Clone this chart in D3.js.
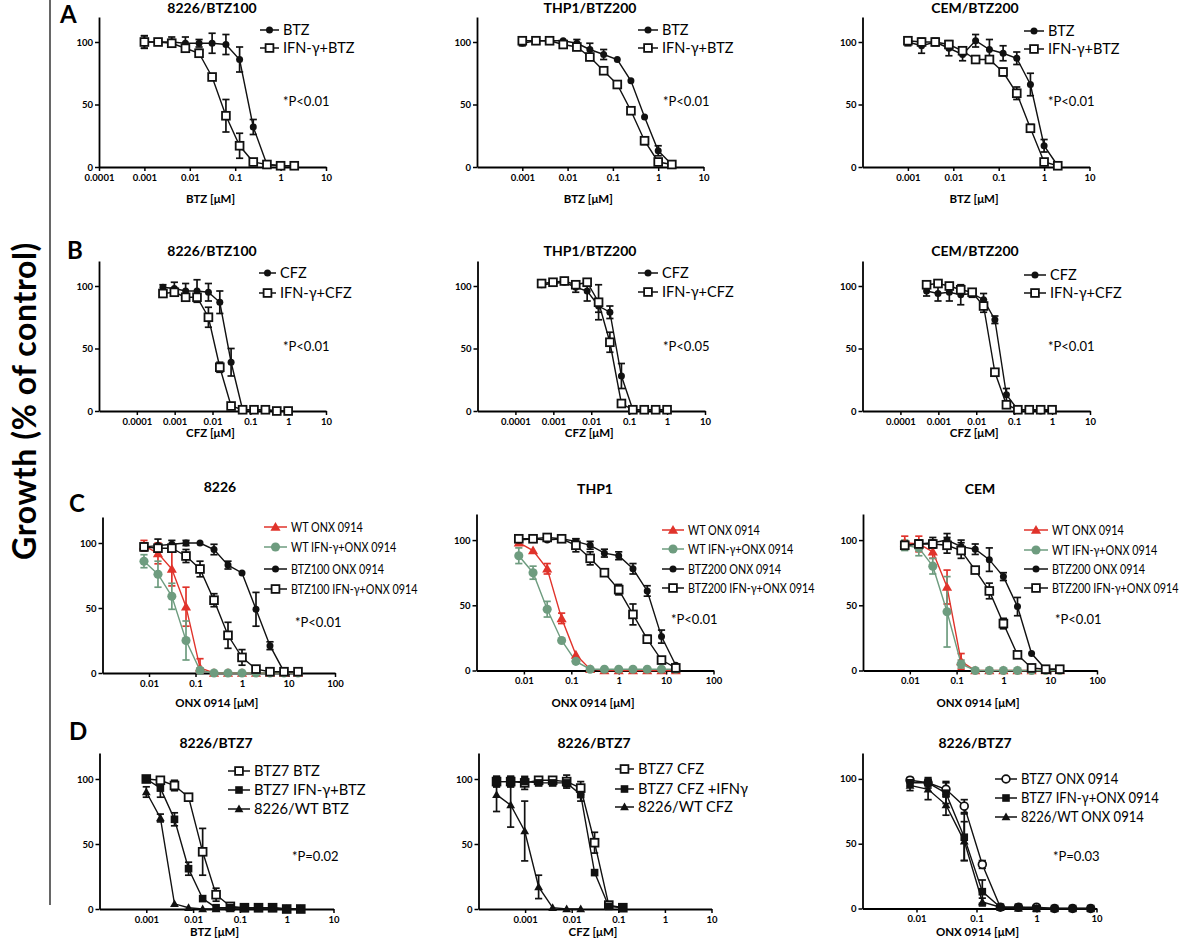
<!DOCTYPE html>
<html><head><meta charset="utf-8">
<script src="https://cdn.jsdelivr.net/npm/d3@7"></script>
<style>
body{margin:0;background:#fff;}
svg text{font-family:Lato,"Open Sans",sans-serif;}
</style></head>
<body><svg id="c" width="1200" height="947"></svg>
<script>
// ---------------- DATA ----------------
const btzDose = [0.001,0.002,0.004,0.008,0.016,0.031,0.0625,0.125,0.25,0.5,1,2];
const cfzDoseB = [0.00049,0.00098,0.00195,0.0039,0.0078,0.0156,0.031,0.0625,0.125,0.25,0.5,1];
const onxDoseC = [0.0078,0.0156,0.031,0.0625,0.125,0.25,0.5,1,2,4,8,16];
const cfzDoseD = [0.000244,0.00049,0.00098,0.00195,0.0039,0.0078,0.0156,0.031,0.0625,0.125];
const onxDoseD = [0.0078,0.0156,0.031,0.0625,0.125,0.25,0.5,1,2,4,8];

const ticksA = ["0.0001","0.001","0.01","0.1","1","10"];
const ticksA23 = ["0.001","0.01","0.1","1","10"];
const ticksC = ["0.01","0.1","1","10","100"];
const ticksD12 = ["0.001","0.01","0.1","1","10"];
const ticksD3 = ["0.01","0.1","1","10"];
const yTicks = [0,50,100];

// A
const a1Btz = [100,100,100,99,99,99,98,86,32,2,1,1];
const a1BtzErr = [5,2,4,5,3,8,8,10,6,1,1,1];
const a1Ifn = [100,100,99,95,91,72,41,17,4,2,1,1];
const a1IfnErr = [5,2,3,3,3,2,13,10,2,1,1,1];
const a2Btz = [99,101,101,101,99,94,90,86,69,40,13,2];
const a2BtzErr = [2,1,1,1,3,5,4,1,1,1,4,1];
const a2Ifn = [101,101,101,98,96,88,77,66,45,21,4,2];
const a2IfnErr = [1,1,1,1,2,1,1,1,1,3,2,1];
const a3Btz = [100,97,100,95,90,101,94,91,87,66,17,1];
const a3BtzErr = [3,6,3,6,5,5,8,6,5,9,5,1];
const a3Ifn = [101,100,100,98,93,86,86,76,59,31,4,1];
const a3IfnErr = [2,1,2,2,3,1,1,3,5,3,1,1];
// B
const b1Cfz = [99,98,96,96,95,87,39,1,1,1,0,0];
const b1CfzErr = [2,5,6,9,7,9,11,1,1,1,1,1];
const b1Ifn = [94,95,91,91,75,35,4,1,1,1,0,0];
const b1IfnErr = [2,3,2,2,8,4,1,1,1,1,1,1];
const b2Cfz = [101,102,103,99,96,84,79,28,1,1,1,1];
const b2CfzErr = [2,2,1,4,8,5,5,10,1,1,1,1];
const b2Ifn = [102,103,104,101,103,87,55,6,1,1,1,1];
const b2IfnErr = [2,1,1,2,1,14,8,1,1,1,1,1];
const b3Cfz = [96,94,95,93,94,89,73,13,1,1,0,1];
const b3CfzErr = [4,6,7,8,3,5,3,5,1,1,1,1];
const b3Ifn = [101,102,100,97,95,84,31,5,1,1,1,1];
const b3IfnErr = [2,2,2,2,2,5,2,1,1,1,1,1];
// C
const c1WtOnx = [98,92,80,51,4,0,0,0,0,0,0,0];
const c1WtOnxErr = [4,8,13,15,7,1,1,1,1,1,1,1];
const c1WtIfn = [86,76,59,25,2,0,0,0,0,0,0,0];
const c1WtIfnErr = [5,10,10,15,2,1,1,1,1,1,1,1];
const c1ResOnx = [97,98,99,100,100,95,83,77,49,21,1,1];
const c1ResOnxErr = [3,5,3,2,1,4,3,1,13,3,1,1];
const c1ResIfn = [97,96,96,90,80,56,29,12,3,1,1,1];
const c1ResIfnErr = [2,3,2,5,6,5,10,6,2,1,1,1];
const c2WtOnx = [98,92,78,40,12,1,0,0,0,0,0,0];
const c2WtOnxErr = [1,1,4,4,1,1,1,1,1,1,1,1];
const c2WtIfn = [88,75,47,23,7,1,1,1,1,1,1,1];
const c2WtIfnErr = [6,5,6,1,1,1,1,1,1,1,1,1];
const c2ResOnx = [100,101,100,101,99,96,90,88,78,61,26,4];
const c2ResOnxErr = [1,1,1,1,2,3,3,3,4,4,5,1];
const c2ResIfn = [101,101,102,101,96,86,75,62,43,24,8,2];
const c2ResIfnErr = [1,1,1,1,5,5,2,4,8,3,1,1];
const c3WtOnx = [98,97,91,64,7,0,0,0,0,0,0,0];
const c3WtOnxErr = [5,6,5,13,6,1,1,1,1,1,1,1];
const c3WtIfn = [96,94,80,45,5,0,0,0,0,0,0,0];
const c3WtIfnErr = [4,6,6,27,3,1,1,1,1,1,1,1];
const c3ResOnx = [96,97,98,100,95,93,85,72,49,13,1,1];
const c3ResOnxErr = [3,3,4,5,5,4,9,3,7,1,1,1];
const c3ResIfn = [96,97,97,96,92,77,61,36,12,2,1,1];
const c3ResIfnErr = [3,3,3,6,6,2,6,4,2,1,1,1];
// D
const d1Btz7 = [100,99,95,86,44,11,2,1,1,1,0,0];
const d1Btz7Err = [2,2,4,2,18,5,1,1,1,1,1,1];
const d1Btz7Ifn = [100,93,69,31,8,1,1,1,1,1,0,0];
const d1Btz7IfnErr = [2,7,5,5,1,1,1,1,1,1,1,1];
const d1Wt = [90,70,4,1,0,0,0,0,0,0,0,0];
const d1WtErr = [4,3,1,1,1,1,1,1,1,1,1,1];
const d2Btz7 = [98,98,97,99,99,98,93,51,3,1];
const d2Btz7Err = [4,4,5,2,2,5,5,8,1,1];
const d2Btz7Ifn = [98,98,98,97,97,97,88,28,2,1];
const d2Btz7IfnErr = [4,4,3,2,2,3,5,1,1,1];
const d2Wt = [88,80,60,17,1,0,0];
const d2WtErr = [13,17,23,9,1,1,1];
const d3Btz7 = [99,97,92,79,34,1,1,1,0,0,0];
const d3Btz7Err = [2,2,6,5,3,1,1,1,1,1,1];
const d3Btz7Ifn = [97,97,89,55,13,1,1,0,0,0,0];
const d3Btz7IfnErr = [3,4,8,18,9,1,1,1,1,1,1];
const d3Wt = [95,92,80,52,5,1,0,0,0,0,0];
const d3WtErr = [4,8,8,15,3,1,1,1,1,1,1];

const RED = "#e0332b", GREEN = "#6e9c7f", BLACK = "#111";

// ---------------- LAYOUT ----------------
const ser = (name, dose, vals, err, marker, color, size) => ({name, dose, vals, err, marker, color: color||BLACK, size: size||1});

const panels = [
 {letter:"A", lx:60, ly:23, title:"8226/BTZ100", tx:212, ty:13, ax:99, ar:326, yz:167, yt:17, xmin:1e-4, xmax:10, ticks:ticksA,
  xlab:"BTZ [μM]", xly:203, p:"*P<0.01", px:283, py:106, legX:260, legTx:283, legY:[30,48], legFs:14.5, legSx:1,
  series:[ser("BTZ",btzDose,a1Btz,a1BtzErr,"circleFilled"), ser("IFN-γ+BTZ",btzDose,a1Ifn,a1IfnErr,"squareOpen")]},
 {title:"THP1/BTZ200", tx:590, ty:13, ax:477, ar:703.5, yz:167, yt:17, xmin:1e-4, xmax:10, ticks:ticksA23,
  xlab:"BTZ [μM]", xly:203, p:"*P<0.01", px:663, py:106, legX:638, legTx:662, legY:[30,48], legFs:14.5, legSx:1,
  series:[ser("BTZ",btzDose,a2Btz,a2BtzErr,"circleFilled"), ser("IFN-γ+BTZ",btzDose,a2Ifn,a2IfnErr,"squareOpen")]},
 {title:"CEM/BTZ200", tx:975, ty:13, ax:862.5, ar:1089.5, yz:167, yt:17, xmin:1e-4, xmax:10, ticks:ticksA23,
  xlab:"BTZ [μM]", xly:203, p:"*P<0.01", px:1048, py:106, legX:1024, legTx:1048, legY:[31,49], legFs:14.5, legSx:1,
  series:[ser("BTZ",btzDose,a3Btz,a3BtzErr,"circleFilled"), ser("IFN-γ+BTZ",btzDose,a3Ifn,a3IfnErr,"squareOpen")]},

 {letter:"B", lx:67, ly:259, title:"8226/BTZ100", tx:212, ty:256, ax:99, ar:326, yz:411, yt:261, xmin:1e-5, xmax:10, ticks:ticksA,
  xlab:"CFZ [μM]", xly:437, p:"*P<0.01", px:283, py:351, legX:259, legTx:280, legY:[273,293], legFs:14.5, legSx:1,
  series:[ser("CFZ",cfzDoseB,b1Cfz,b1CfzErr,"circleFilled"), ser("IFN-γ+CFZ",cfzDoseB,b1Ifn,b1IfnErr,"squareOpen")]},
 {title:"THP1/BTZ200", tx:590, ty:256, ax:477.5, ar:705, yz:411, yt:261, xmin:1e-5, xmax:10, ticks:ticksA,
  xlab:"CFZ [μM]", xly:437, p:"*P<0.05", px:663, py:351, legX:638, legTx:662, legY:[273,292], legFs:14.5, legSx:1,
  series:[ser("CFZ",cfzDoseB,b2Cfz,b2CfzErr,"circleFilled"), ser("IFN-γ+CFZ",cfzDoseB,b2Ifn,b2IfnErr,"squareOpen")]},
 {title:"CEM/BTZ200", tx:975, ty:256, ax:862.5, ar:1090, yz:411, yt:261, xmin:1e-5, xmax:10, ticks:ticksA,
  xlab:"CFZ [μM]", xly:437, p:"*P<0.01", px:1048, py:351, legX:1024, legTx:1050, legY:[275,293], legFs:14.5, legSx:1,
  series:[ser("CFZ",cfzDoseB,b3Cfz,b3CfzErr,"circleFilled"), ser("IFN-γ+CFZ",cfzDoseB,b3Ifn,b3IfnErr,"squareOpen")]},

 {letter:"C", lx:69, ly:512, title:"8226", tx:220, ty:492, ax:102.5, ar:335, yz:673, yt:517, xmin:1e-3, xmax:100, ticks:ticksC,
  xlab:"ONX 0914 [μM]", xly:707, p:"*P<0.01", px:295, py:627, legX:264, legTx:291, legY:[527,547,569,589], legFs:13.5, legSx:0.8,
  series:[ser("WT ONX 0914",onxDoseC,c1WtOnx,c1WtOnxErr,"triangle",RED,1.15), ser("WT IFN-γ+ONX 0914",onxDoseC,c1WtIfn,c1WtIfnErr,"circleFilled",GREEN,1.3),
          ser("BTZ100 ONX 0914",onxDoseC,c1ResOnx,c1ResOnxErr,"circleFilled"), ser("BTZ100 IFN-γ+ONX 0914",onxDoseC,c1ResIfn,c1ResIfnErr,"squareOpen")]},
 {title:"THP1", tx:595, ty:494, ax:476.5, ar:713.5, yz:670.5, yt:514, xmin:1e-3, xmax:100, ticks:ticksC,
  xlab:"ONX 0914 [μM]", xly:707, p:"*P<0.01", px:671, py:624, legX:662, legTx:688, legY:[530,549,569,588], legFs:13.5, legSx:0.8,
  series:[ser("WT ONX 0914",onxDoseC,c2WtOnx,c2WtOnxErr,"triangle",RED,1.15), ser("WT IFN-γ+ONX 0914",onxDoseC,c2WtIfn,c2WtIfnErr,"circleFilled",GREEN,1.3),
          ser("BTZ200 ONX 0914",onxDoseC,c2ResOnx,c2ResOnxErr,"circleFilled"), ser("BTZ200 IFN-γ+ONX 0914",onxDoseC,c2ResIfn,c2ResIfnErr,"squareOpen")]},
 {title:"CEM", tx:980, ty:494, ax:863, ar:1097, yz:670.5, yt:514, xmin:1e-3, xmax:100, ticks:ticksC,
  xlab:"ONX 0914 [μM]", xly:707, p:"*P<0.01", px:1055, py:624, legX:1024, legTx:1052, legY:[530,550,569,588], legFs:13.5, legSx:0.8,
  series:[ser("WT ONX 0914",onxDoseC,c3WtOnx,c3WtOnxErr,"triangle",RED,1.15), ser("WT IFN-γ+ONX 0914",onxDoseC,c3WtIfn,c3WtIfnErr,"circleFilled",GREEN,1.3),
          ser("BTZ200 ONX 0914",onxDoseC,c3ResOnx,c3ResOnxErr,"circleFilled"), ser("BTZ200 IFN-γ+ONX 0914",onxDoseC,c3ResIfn,c3ResIfnErr,"squareOpen")]},

 {letter:"D", lx:69, ly:740, title:"8226/BTZ7", tx:216, ty:748, ax:99.5, ar:333.5, yz:909, yt:753, xmin:1e-4, xmax:10, ticks:ticksD12,
  xlab:"BTZ [μM]", xly:936, p:"*P=0.02", px:292, py:861, legX:228, legTx:254, legY:[771,790,809], legFs:15, legSx:0.98,
  series:[ser("BTZ7 BTZ",btzDose,d1Btz7,d1Btz7Err,"squareOpen"), ser("BTZ7 IFN-γ+BTZ",btzDose,d1Btz7Ifn,d1Btz7IfnErr,"squareFilled"),
          ser("8226/WT BTZ",btzDose,d1Wt,d1WtErr,"triangle")]},
 {title:"8226/BTZ7", tx:594, ty:748, ax:478.5, ar:711.5, yz:909, yt:753, xmin:1e-4, xmax:10, ticks:ticksD12,
  xlab:"CFZ [μM]", xly:936, p:null, legX:615, legTx:638, legY:[769,789,807], legFs:15, legSx:0.98,
  series:[ser("BTZ7 CFZ",cfzDoseD,d2Btz7,d2Btz7Err,"squareOpen"), ser("BTZ7 CFZ +IFNγ",cfzDoseD,d2Btz7Ifn,d2Btz7IfnErr,"squareFilled"),
          ser("8226/WT CFZ",cfzDoseD.slice(0,d2Wt.length),d2Wt,d2WtErr,"triangle")]},
 {title:"8226/BTZ7", tx:975, ty:748, ax:862.5, ar:1096.5, yz:908.5, yt:753, xmin:Math.pow(10,-2.9), xmax:10, ticks:ticksD3,
  xlab:"ONX 0914 [μM]", xly:936, p:"*P=0.03", px:1053, py:861, legX:995, legTx:1021, legY:[779,798,817], legFs:14.5, legSx:0.9,
  series:[ser("BTZ7 ONX 0914",onxDoseD,d3Btz7,d3Btz7Err,"circleOpen"), ser("BTZ7 IFN-γ+ONX 0914",onxDoseD,d3Btz7Ifn,d3Btz7IfnErr,"squareFilled"),
          ser("8226/WT ONX 0914",onxDoseD,d3Wt,d3WtErr,"triangle")]}
];

// ---------------- DRAW ----------------
const svg = d3.select("#c");
svg.append("rect").attr("width",1200).attr("height",947).attr("fill","#fff");

// left label & divider
svg.append("line").attr("x1",50).attr("x2",50).attr("y1",0).attr("y2",905).attr("stroke","#000").attr("stroke-width",1.2);
svg.append("text").attr("transform","translate(36,401) rotate(-90)").attr("text-anchor","middle")
  .attr("font-size",32).attr("font-weight","bold").attr("letter-spacing",0.6).text("Growth (% of control)");

function drawMarker(g, type, cx, cy, color, s){
  if(type==="circleFilled"){
    g.append("circle").attr("cx",cx).attr("cy",cy).attr("r",3.5*s).attr("fill",color);
  } else if(type==="circleOpen"){
    g.append("circle").attr("cx",cx).attr("cy",cy).attr("r",3.9*s).attr("fill","#fff").attr("stroke",color).attr("stroke-width",1.7);
  } else if(type==="squareOpen"){
    const h=3.9*s;
    g.append("rect").attr("x",cx-h).attr("y",cy-h).attr("width",2*h).attr("height",2*h).attr("fill","#fff").attr("stroke",color).attr("stroke-width",1.8);
  } else if(type==="squareFilled"){
    const h=3.8*s;
    g.append("rect").attr("x",cx-h).attr("y",cy-h).attr("width",2*h).attr("height",2*h).attr("fill",color);
  } else if(type==="triangle"){
    const h=4.4*s;
    g.append("path").attr("d",`M${cx},${cy-h}L${cx+h},${cy+h*0.75}L${cx-h},${cy+h*0.75}Z`).attr("fill",color);
  }
}

panels.forEach(P=>{
  const g = svg.append("g");
  const x = d3.scaleLog().domain([P.xmin,P.xmax]).range([P.ax,P.ar]);
  const y = d3.scaleLinear().domain([0,120]).range([P.yz,P.yt]);

  if(P.letter) g.append("text").attr("x",P.lx).attr("y",P.ly).attr("font-size",24).attr("font-weight","bold").text(P.letter);
  g.append("text").attr("x",P.tx).attr("y",P.ty).attr("text-anchor","middle").attr("font-size",14).attr("font-weight","bold").text(P.title);

  // axes
  const xa = g.append("g").attr("transform",`translate(0,${P.yz})`)
    .call(d3.axisBottom(x).tickValues(P.ticks.map(Number)).tickFormat((d,i)=>P.ticks[i]).tickSize(4).tickSizeOuter(0).tickPadding(3));
  const ya = g.append("g").attr("transform",`translate(${P.ax},0)`)
    .call(d3.axisLeft(y).tickValues(yTicks).tickSize(4).tickSizeOuter(0).tickPadding(2));
  [xa,ya].forEach(a=>{
    a.select(".domain").attr("stroke","#000").attr("stroke-width",1.8);
    a.selectAll(".tick line").attr("stroke","#000").attr("stroke-width",1.5);
    a.selectAll(".tick text").attr("font-size",9.5).attr("font-weight","bold").attr("fill","#000").style("font-family","Lato,'Open Sans',sans-serif");
  });
  g.append("text").attr("x",(P.ax+P.ar)/2 - 2).attr("y",P.xly).attr("text-anchor","middle").attr("font-size",11.5).attr("font-weight","bold").text(P.xlab);
  if(P.p) g.append("text").attr("x",P.px).attr("y",P.py).attr("font-size",13).text(P.p);

  const line = d3.line().x(d=>x(d[0])).y(d=>y(d[1]));
  P.series.forEach(S=>{
    const pts = S.dose.map((d,i)=>[d,S.vals[i],S.err[i]]);
    const sg = g.append("g");
    pts.forEach(p=>{
      if(p[2]>1){
        const cx=x(p[0]), y1=y(p[1]+p[2]), y2=y(Math.max(0,p[1]-p[2]));
        sg.append("line").attr("x1",cx).attr("x2",cx).attr("y1",y1).attr("y2",y2).attr("stroke",S.color).attr("stroke-width",1.7);
        [y1,y2].forEach(yy=>sg.append("line").attr("x1",cx-3.6).attr("x2",cx+3.6).attr("y1",yy).attr("y2",yy).attr("stroke",S.color).attr("stroke-width",1.7));
      }
    });
    sg.append("path").datum(pts).attr("d",line).attr("fill","none").attr("stroke",S.color).attr("stroke-width",1.4);
  });
  P.series.forEach(S=>{
    const sg = g.append("g");
    S.dose.forEach((d,i)=>drawMarker(sg,S.marker,x(d),y(S.vals[i]),S.color,S.size));
  });

  // legend
  P.series.forEach((S,i)=>{
    const ly = P.legY[i];
    const lg = g.append("g");
    const x2 = P.legTx - 4;
    lg.append("line").attr("x1",P.legX).attr("x2",x2).attr("y1",ly).attr("y2",ly).attr("stroke",S.color).attr("stroke-width",1.5);
    drawMarker(lg,S.marker,(P.legX+x2)/2,ly,S.color,S.size);
    const t = lg.append("text").attr("x",P.legTx).attr("y",ly+P.legFs*0.35).attr("font-size",P.legFs).text(S.name);
    if(P.legSx !== 1){
      const w = t.node().getComputedTextLength();
      t.attr("textLength",w*P.legSx).attr("lengthAdjust","spacingAndGlyphs");
    }
  });
});
</script></body></html>
